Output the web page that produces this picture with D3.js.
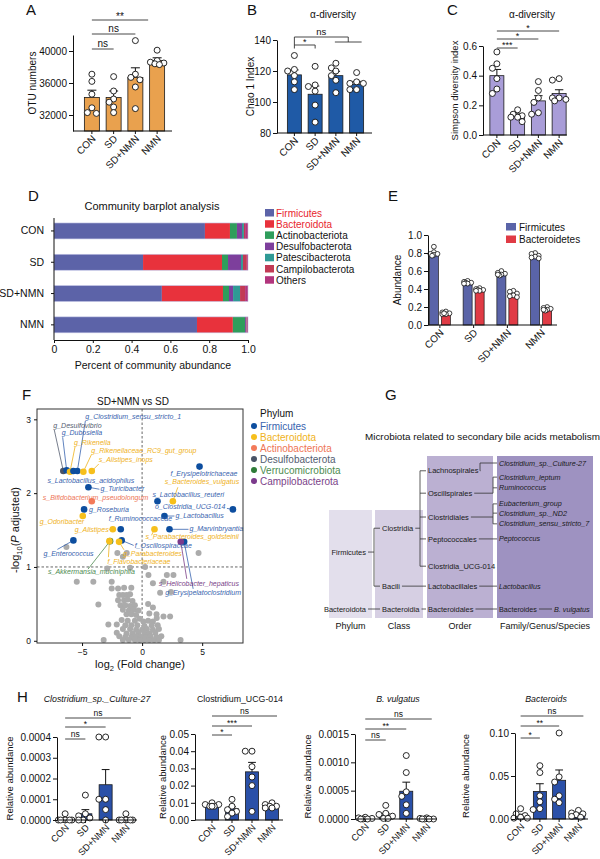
<!DOCTYPE html>
<html>
<head>
<meta charset="utf-8">
<script src="https://cdn.jsdelivr.net/npm/d3@7"></script>
<style>
  body { margin: 0; background: #fff; }
  svg { display: block; }
</style>
</head>
<body>
<div id="fig"></div>
<script>
const groups = ["CON", "SD", "SD+NMN", "NMN"];

// A: OTU numbers
const otuMean = [34200, 34200, 36700, 38800];
const otuSem = [900, 800, 1200, 350];
const otuPts = [
  [37100, 36200, 34600, 32900, 32200, 32300],
  [36800, 35000, 34000, 33600, 33000, 32300],
  [41300, 37100, 36700, 36400, 35500, 32800],
  [40100, 38800, 38600, 38500, 38400, 38300]
];

// B: Chao 1
const chaoMean = [117.5, 105, 117, 111.5];
const chaoSem = [3.2, 5.3, 2.8, 1.8];
const chaoPts = [
  [130, 121, 120, 117, 113, 108],
  [123, 111, 110, 107, 98, 87],
  [125, 122, 120, 117, 114, 106],
  [119, 113, 112, 112, 108, 108]
];

// C: Simpson
const simpMean = [0.40, 0.13, 0.23, 0.28];
const simpSem = [0.042, 0.012, 0.035, 0.025];
const simpPts = [
  [0.56, 0.48, 0.45, 0.38, 0.31, 0.28],
  [0.17, 0.14, 0.13, 0.12, 0.12, 0.09],
  [0.36, 0.30, 0.25, 0.22, 0.15, 0.14],
  [0.38, 0.37, 0.25, 0.25, 0.24, 0.23]
];

// D: community barplot
const phyla = ["Firmicutes", "Bacteroidota", "Actinobacteriota", "Desulfobacterota",
               "Patescibacterota", "Campilobacterota", "Others"];
const communityShare = [
  [0.778, 0.129, 0.036, 0.026, 0.010, 0.006, 0.015],
  [0.459, 0.407, 0.031, 0.067, 0.010, 0.020, 0.006],
  [0.556, 0.315, 0.031, 0.021, 0.036, 0.026, 0.015],
  [0.737, 0.185, 0.063, 0.005, 0.002, 0.003, 0.005]
];
const dTicks = [0, 0.2, 0.4, 0.6, 0.8, 1.0];

// E: Firmicutes / Bacteroidetes abundance
const firmMean = [0.79, 0.47, 0.565, 0.755];
const firmSem = [0.014, 0.005, 0.008, 0.01];
const firmPts = [
  [0.87, 0.81, 0.79, 0.78, 0.77, 0.79],
  [0.49, 0.48, 0.47, 0.47, 0.46, 0.46],
  [0.60, 0.58, 0.57, 0.56, 0.55, 0.56],
  [0.80, 0.79, 0.77, 0.76, 0.74, 0.75]
];
const bactMean = [0.125, 0.385, 0.335, 0.175];
const bactSem = [0.006, 0.005, 0.012, 0.007];
const bactPts = [
  [0.15, 0.14, 0.13, 0.12, 0.12, 0.13],
  [0.41, 0.40, 0.39, 0.39, 0.38, 0.38],
  [0.38, 0.37, 0.35, 0.33, 0.32, 0.31],
  [0.20, 0.19, 0.18, 0.17, 0.16, 0.17]
];

// F: volcano
const volcPhyla = ["Firmicutes", "Bacteroidota", "Actinobacteriota", "Desulfobacterota",
                   "Verrucomicrobiota", "Campilobacterota"];
const volcLabels = ["g_Desulfovibrio", "g_Dubosiella", "g_Rikenella", "s_Lactobacillus_acidophilus",
  "g_Clostridium_sensu_stricto_1", "g_Rikenellaceae_RC9_gut_group", "s_Alistipes_inops", "g_Turicibacter",
  "s_Bifidobacterium_pseudolongum", "g_Roseburia", "g_Odoribacter", "f_Ruminococcaceae", "g_Alistipes",
  "g_Enterococcus", "s_Akkermansia_muciniphila", "f_Flavobacteriaceae", "f_Oscillospiraceae",
  "g_Parabacteroides", "f_Erysipelotrichaceae", "s_Bacteroides_vulgatus", "s_Lactobacillus_reuteri",
  "o_Clostridia_UCG-014", "g_Lactobacillus", "g_Marvinbryantia", "s_Parabacteroides_goldsteinii",
  "g_Erysipelatoclostridium", "s_Helicobacter_hepaticus"];
const volcFC = [-6.56, -6.28, -6.00, -5.72, -5.39, -4.89, -4.19, -4.47, -4.19, -4.83, -4.94, -1.78, -2.44,
  -5.72, -2.67, -2.72, -1.70, -1.92, 4.78, 2.56, 1.28, 7.56, 1.86, 2.28, 1.03, 3.50, 3.22];
const volcP = [2.30, 2.31, 2.29, 2.30, 2.30, 2.29, 2.30, 2.08, 1.89, 1.78, 1.69, 1.51, 1.51,
  1.36, 1.35, 1.35, 1.36, 1.34, 2.36, 1.89, 1.89, 1.78, 1.69, 1.51, 1.51, 1.34, 1.34];
const volcPhy = [3, 0, 1, 0, 0, 1, 1, 0, 2, 0, 1, 0, 1, 0, 4, 1, 0, 1, 0, 1, 0, 0, 0, 0, 1, 0, 5];
const grayFC = [-6.3, 4.7, -2.06, -1.28, -1.6, -2.9, -1.0, 0.25, -5.44, -4.06, -2.53, 0.53, 2.06, 2.61, 1.78, 0.9,
  -2.53, -2.0, -1.5, -0.9, 1.5, 2.4, -3.64, -1.9, -1.6, -1.3, -1.0, -2.0, -1.5, -1.2, -0.8,
  -1.8, -1.4, -1.0, -0.6, 0.5, -1.6, -1.1, -0.7, -0.3, 0.9, -1.3, -0.9, -0.5, 0.6, 1.2,
  1.22, 1.78, 2.33, -0.2, -1.7, -1.2, -0.6, 0.1, 0.5, 0.9,
  -2.81, -2.11, -1.4, -0.9, -0.4, 0.2, 0.8, 1.3, -1.6, -1.0, -0.5, 0.0, 0.4, 0.9, 1.4,
  -2.11, -1.3, -0.8, -0.3, 0.2, 0.6, 1.1, -1.9, -1.4, -0.9, -0.5, -0.1, 0.3, 0.7, 1.2, 1.6,
  -3.2, -1.6, -1.1, -0.6, -0.2, 0.2, 0.6, 1.0, 1.4, 3.2];
const grayP = [1.27, 1.19, 1.19, 1.19, 1.14, 0.98, 0.99, 1.0, 0.80, 0.80, 0.80, 0.89, 0.89, 0.89, 0.80, 0.78,
  0.71, 0.71, 0.72, 0.72, 0.65, 0.66, 0.49, 0.62, 0.62, 0.62, 0.63, 0.55, 0.55, 0.56, 0.54,
  0.48, 0.48, 0.47, 0.48, 0.50, 0.42, 0.41, 0.42, 0.41, 0.45, 0.36, 0.36, 0.35, 0.37, 0.36,
  0.31, 0.33, 0.33, 0.30, 0.28, 0.27, 0.27, 0.26, 0.27, 0.26,
  0.22, 0.22, 0.21, 0.21, 0.21, 0.20, 0.21, 0.21, 0.16, 0.16, 0.15, 0.15, 0.16, 0.15, 0.16,
  0.11, 0.10, 0.10, 0.11, 0.10, 0.10, 0.11, 0.06, 0.05, 0.05, 0.06, 0.05, 0.05, 0.06, 0.05, 0.06,
  0.01, 0.01, 0.01, 0.01, 0.01, 0.01, 0.01, 0.01, 0.01, 0.01];

// G: taxonomy tree
const treeNames = ["Firmicutes", "Bacteroidota", "Clostridia", "Bacili", "Bacteroidia",
  "Lachnospirales", "Oscillspirales", "Clostridiales", "Peptococcales", "Clostridia_UCG-014",
  "Lactobacillales", "Bacteroidales", "Clostridium_sp._Culture-27", "Clostridium_leptum", "Ruminococcus",
  "Eubacterium_group", "Clostridium_sp._ND2", "Clostridium_sensu_stricto_7", "Peptococcus",
  "Lactobacillus", "Bacteroides", "B. vulgatus"];
const treeLevel = [0, 0, 1, 1, 1, 2, 2, 2, 2, 2, 2, 2, 3, 3, 3, 3, 3, 3, 3, 3, 3, 4];
const treeRow = [18.3, 30, 13.4, 25.3, 30, 1.6, 6.2, 11.1, 15.6, 21.2, 25.3, 30,
  0, 2.9, 5.1, 8.4, 10.3, 12.5, 15.6, 25.3, 30, 30];
const treeEdges = [["Firmicutes", "Clostridia"], ["Firmicutes", "Bacili"], ["Bacteroidota", "Bacteroidia"],
  ["Clostridia", "Lachnospirales"], ["Clostridia", "Oscillspirales"], ["Clostridia", "Clostridiales"],
  ["Clostridia", "Peptococcales"], ["Clostridia", "Clostridia_UCG-014"], ["Bacili", "Lactobacillales"],
  ["Bacteroidia", "Bacteroidales"], ["Lachnospirales", "Clostridium_sp._Culture-27"],
  ["Oscillspirales", "Clostridium_leptum"], ["Oscillspirales", "Ruminococcus"],
  ["Clostridiales", "Eubacterium_group"], ["Clostridiales", "Clostridium_sp._ND2"],
  ["Clostridiales", "Clostridium_sensu_stricto_7"], ["Peptococcales", "Peptococcus"],
  ["Lactobacillales", "Lactobacillus"], ["Bacteroidales", "Bacteroides"], ["Bacteroides", "B. vulgatus"]];
const treeColumns = ["Phylum", "Class", "Order", "Family/Genus/Species"];

// H: relative abundance of selected taxa
const hTitles = ["Clostridium_sp._Culture-27", "Clostridium_UCG-014", "B. vulgatus", "Bacteroids"];
const hDomains = [[0, 0.0004], [0, 0.05], [0, 0.0015], [0, 0.1]];
const hTicks = [[0, 0.0001, 0.0002, 0.0003, 0.0004], [0, 0.01, 0.02, 0.03, 0.04, 0.05],
                [0, 0.0005, 0.001, 0.0015], [0, 0.05, 0.1]];
const hMean = [[0.000002, 0.00003, 0.00017, 0.000003], [0.0085, 0.0065, 0.028, 0.0078],
               [0.00001, 0.00007, 0.00049, 0.00001], [0.004, 0.032, 0.045, 0.005]];
const hSem = [[0.000005, 0.00002, 0.000073, 0.000005], [0.0005, 0.0012, 0.0055, 0.0005],
              [0.000006, 0.00003, 0.00016, 0.000004], [0.0015, 0.009, 0.012, 0.0014]];
const hPts = [
  [[0.00003, 0, 0, 0, 0, 0], [0.00012, 0.00003, 0.00002, 0.00001, 0, 0],
   [0.0004, 0.0004, 0.0001, 0.0001, 0.00005, 0], [0.00003, 0, 0, 0, 0, 0]],
  [[0.010, 0.009, 0.009, 0.008, 0.008, 0.008], [0.012, 0.008, 0.006, 0.005, 0.004, 0.002],
   [0.040, 0.040, 0.031, 0.025, 0.020, 0.005], [0.010, 0.009, 0.008, 0.008, 0.007, 0.007]],
  [[0.00003, 0.00002, 0.00001, 0, 0, 0], [0.00024, 0.0001, 0.00008, 0.00005, 0.00001, 0.00001],
   [0.00112, 0.00082, 0.00048, 0.0004, 0.00025, 0.0001], [0.00002, 0.00001, 0, 0, 0, 0]],
  [[0.012, 0.006, 0.004, 0.002, 0.001, 0.001], [0.062, 0.054, 0.027, 0.020, 0.012, 0.011],
   [0.100, 0.049, 0.043, 0.027, 0.023, 0.019], [0.010, 0.007, 0.006, 0.005, 0.003, 0.002]]
];
const hSig = [["ns", "*", "ns"], ["*", "***", "ns"], ["ns", "**", "ns"], ["*", "**", "ns"]];

// ---------------------------------------------------------------------------
const FONT = '"Liberation Sans", Arial, Helvetica, sans-serif';
const INK = "#111";
const svg = d3.select("#fig").append("svg")
  .attr("width", 600).attr("height", 859)
  .style("font-family", FONT);

function styleAxis(sel, fs) {
  sel.attr("font-family", FONT).attr("font-size", fs);
  sel.selectAll("path, line").attr("stroke", INK).attr("stroke-width", 1);
  sel.selectAll("text").attr("fill", INK);
}

function line(g, x1, y1, x2, y2, color, w) {
  return g.append("line").attr("x1", x1).attr("y1", y1).attr("x2", x2).attr("y2", y2)
    .attr("stroke", color || INK).attr("stroke-width", w || 0.9);
}

// simple deterministic swarm so that points with close values sit side by side
function swarm(vals, y, r, maxOff) {
  const order = d3.range(vals.length).sort((a, b) => d3.descending(vals[a], vals[b]));
  const steps = [0, -1, 1, -0.5, 0.5, -1.5, 1.5];
  const placed = [], off = [];
  order.forEach(i => {
    const py = y(vals[i]);
    let best = 0, bestD = -1;
    for (const s of steps) {
      const px = s * r * 1.5;
      if (Math.abs(px) > maxOff) continue;
      const dmin = placed.length ? d3.min(placed, p => Math.hypot(p[0] - px, p[1] - py)) : Infinity;
      if (dmin >= r * 1.8) { best = px; bestD = dmin; break; }
      if (dmin > bestD) { bestD = dmin; best = px; }
    }
    off[i] = best;
    placed.push([best, py]);
  });
  return off;
}

function barPanel(o) {
  const g = svg.append("g");
  const x = d3.scaleBand().domain(groups).range(o.band);
  const cx = d => x(d) + x.bandwidth() / 2;
  const y = d3.scaleLinear().domain(o.domain).range([o.yBot, o.yTop]);
  const r = o.r || 3;

  g.selectAll("rect").data(groups).join("rect")
    .attr("x", d => cx(d) - o.barW / 2)
    .attr("y", (d, i) => y(o.mean[i]))
    .attr("width", o.barW)
    .attr("height", (d, i) => o.yBot - y(o.mean[i]))
    .attr("fill", o.fill).attr("stroke", "#1a1a1a").attr("stroke-width", 0.8);

  // mean + SEM
  groups.forEach((d, i) => {
    const top = y(o.mean[i] + o.sem[i]);
    line(g, cx(d), y(o.mean[i]), cx(d), top, INK, 1);
    line(g, cx(d) - o.barW * 0.3, top, cx(d) + o.barW * 0.3, top, INK, 1);
  });

  groups.forEach((d, i) => {
    const offs = swarm(o.pts[i], y, r, o.barW / 2 + 1);
    g.selectAll(null).data(o.pts[i]).join("circle")
      .attr("cx", (v, j) => cx(d) + offs[j])
      .attr("cy", v => y(v))
      .attr("r", r)
      .attr("fill", "#fff").attr("stroke", INK).attr("stroke-width", 0.9);
  });

  const ya = g.append("g").attr("transform", `translate(${o.axisX},0)`)
    .call(d3.axisLeft(y).tickValues(o.ticks).tickFormat(d3.format(o.fmt))
      .tickSize(4).tickSizeOuter(0).tickPadding(2));
  styleAxis(ya, o.tickFs || 10);

  const xa = g.append("g").attr("transform", `translate(0,${o.yBot})`)
    .call(d3.axisBottom(x).tickSize(3).tickSizeOuter(0));
  xa.select(".domain").remove();
  styleAxis(xa, o.xTickFs || o.tickFs || 10);
  xa.selectAll("text")
    .attr("x", 0).attr("y", 0).attr("dy", "0.35em")
    .attr("transform", "translate(2,6) rotate(-45)")
    .attr("text-anchor", "end");
  line(g, o.axisX, o.yBot, o.axisEnd, o.yBot, INK, 1);

  g.append("text")
    .attr("transform", `translate(${o.ylabelX},${(o.yTop + o.yBot) / 2}) rotate(-90)`)
    .attr("text-anchor", "middle").attr("dy", "0.35em")
    .style("font-size", (o.ylabelFs || 10) + "px").attr("fill", INK)
    .text(o.ylabel);

  if (o.title) {
    g.append("text").attr("x", o.titleX).attr("y", o.titleY)
      .attr("text-anchor", "middle")
      .style("font-size", (o.titleFs || 10) + "px")
      .style("font-style", o.italic ? "italic" : "normal")
      .attr("fill", INK).text(o.title);
  }

  (o.brackets || []).forEach(b => {
    const x1 = cx("CON"), x2 = cx(b.to) + (b.end || 0);
    line(g, x1, b.y, x2, b.y, "#333", 0.9);
    if (b.ticks) {
      line(g, x1, b.y, x1, b.y + 3.5, "#333", 0.9);
      line(g, x2, b.y, x2, b.y + 3.5, "#333", 0.9);
    }
    g.append("text").attr("x", (x1 + x2) / 2).attr("y", b.y - (b.t === "ns" ? 2.5 : 0.5))
      .attr("text-anchor", "middle").style("font-size", (o.sigFs || 9) + "px")
      .attr("fill", INK).text(b.t);
  });
  return { g, x, y, cx };
}

// ---------------------------------------------------------------------------
// Panel A
barPanel({
  axisX: 73, axisEnd: 172, band: [81, 168], yTop: 35, yBot: 131,
  domain: [30000, 42000], ticks: [32000, 36000, 40000], fmt: "d",
  mean: otuMean, sem: otuSem, pts: otuPts, fill: "#E9A14E", barW: 15,
  ylabel: "OTU numbers", ylabelX: 32, sigFs: 10,
  brackets: [{ to: "SD", y: 49, t: "ns" }, { to: "SD+NMN", y: 34, t: "ns" }, { to: "NMN", y: 20, t: "**", end: -9 }]
});

// Panel B
const pB = barPanel({
  axisX: 277, axisEnd: 372, band: [284, 367], yTop: 40, yBot: 133,
  domain: [80, 140], ticks: [80, 100, 120, 140], fmt: "d",
  mean: chaoMean, sem: chaoSem, pts: chaoPts, fill: "#1F5AA6", barW: 14,
  ylabel: "Chao 1 Index", ylabelX: 250, title: "α-diversity", titleX: 333, titleY: 18,
  brackets: [{ to: "SD", y: 45, t: "*", ticks: true }]
});
{
  const xa = pB.cx("CON"), xr1 = pB.cx("SD+NMN") - 1, xr2 = pB.cx("NMN") + 5, xm = (xr1 + xr2) / 2;
  line(pB.g, xa, 37, xm, 37, "#333");
  line(pB.g, xa, 37, xa, 45, "#333");
  line(pB.g, xm, 37, xm, 42, "#333");
  line(pB.g, xr1, 42, xr2, 42, "#333");
  pB.g.append("text").attr("x", (xa + xm) / 2).attr("y", 34.5).attr("text-anchor", "middle")
    .style("font-size", "9.5px").attr("fill", INK).text("ns");
}

// Panel C
barPanel({
  axisX: 483, axisEnd: 567, band: [486.5, 569.5], yTop: 46, yBot: 135,
  domain: [0, 0.6], ticks: [0, 0.2, 0.4, 0.6], fmt: ".1f",
  mean: simpMean, sem: simpSem, pts: simpPts, fill: "#A99DD8", barW: 14,
  ylabel: "Simpson diversity index", ylabelX: 455, ylabelFs: 9.5,
  title: "α-diversity", titleX: 532, titleY: 18,
  brackets: [{ to: "SD", y: 48, t: "***" }, { to: "SD+NMN", y: 39, t: "*" }, { to: "NMN", y: 31, t: "*" }]
});

// ---------------------------------------------------------------------------
// Panel D
{
  const colors = ["#5C63A8", "#E8323C", "#2F9D5B", "#7D3F9C", "#2F9A95", "#C23A55", "#B2357D"];
  const g = svg.append("g");
  const x = d3.scaleLinear().domain([0, 1]).range([54, 248]);
  const y = d3.scaleBand().domain(groups).range([215.3, 340.5]).paddingInner(0.49).paddingOuter(0.245);
  groups.forEach((grp, i) => {
    const stack = d3.cumsum(communityShare[i]);
    g.selectAll(null).data(communityShare[i]).join("rect")
      .attr("x", (d, k) => x(stack[k] - d))
      .attr("width", d => x(d) - x(0))
      .attr("y", y(grp)).attr("height", y.bandwidth())
      .attr("fill", (d, k) => colors[k]);
    g.append("rect").attr("x", x(0)).attr("y", y(grp)).attr("width", x(d3.sum(communityShare[i])) - x(0))
      .attr("height", y.bandwidth()).attr("fill", "none").attr("stroke", "#c4c6e6").attr("stroke-width", 0.6);
  });
  const xa = g.append("g").attr("transform", "translate(0,340)")
    .call(d3.axisBottom(x).tickValues(dTicks).tickFormat(d => d === 0 ? "0" : d3.format(".1f")(d))
      .tickSize(3).tickSizeOuter(0));
  styleAxis(xa, 10.5);
  const ya = g.append("g").attr("transform", "translate(54,0)")
    .call(d3.axisLeft(y).tickSize(3).tickPadding(7));
  ya.select(".domain").remove();
  styleAxis(ya, 10.5);
  line(g, 54, 218, 54, 340, INK, 1);
  g.append("text").attr("x", 152).attr("y", 210).attr("text-anchor", "middle")
    .style("font-size", "11px").attr("fill", INK).text("Community barplot analysis");
  g.append("text").attr("x", 153).attr("y", 369).attr("text-anchor", "middle")
    .style("font-size", "10.5px").attr("fill", INK).text("Percent of community abundance");
  const leg = g.selectAll(".legD").data(phyla).join("g")
    .attr("transform", (d, i) => `translate(265,${209 + i * 11.2})`);
  leg.append("rect").attr("width", 9).attr("height", 7.5).attr("fill", (d, i) => colors[i]);
  leg.append("text").attr("x", 11).attr("y", 7.5).style("font-size", "10px")
    .attr("fill", (d, i) => i < 2 ? "#E8262E" : INK).text(d => d);
}

// ---------------------------------------------------------------------------
// Panel E
{
  const g = svg.append("g");
  const x = d3.scaleBand().domain(groups).range([423, 558]);
  const cx = d => x(d) + x.bandwidth() / 2;
  const y = d3.scaleLinear().domain([0, 1]).range([325, 235]);
  const series = [
    { name: "Firmicutes", mean: firmMean, sem: firmSem, pts: firmPts, color: "#5A64A8", off: -6 },
    { name: "Bacteroidetes", mean: bactMean, sem: bactSem, pts: bactPts, color: "#E03B45", off: 6 }
  ];
  series.forEach(s => {
    g.selectAll(null).data(groups).join("rect")
      .attr("x", d => cx(d) + s.off - 4.5).attr("width", 9)
      .attr("y", (d, i) => y(s.mean[i])).attr("height", (d, i) => 325 - y(s.mean[i]))
      .attr("fill", s.color).attr("stroke", "#1a1a1a").attr("stroke-width", 0.7);
    groups.forEach((d, i) => {
      const top = y(s.mean[i] + s.sem[i]);
      line(g, cx(d) + s.off, y(s.mean[i]), cx(d) + s.off, top, INK, 0.9);
      line(g, cx(d) + s.off - 2.5, top, cx(d) + s.off + 2.5, top, INK, 0.9);
      const offs = swarm(s.pts[i], y, 2.4, 5);
      g.selectAll(null).data(s.pts[i]).join("circle")
        .attr("cx", (v, j) => cx(d) + s.off + offs[j]).attr("cy", v => y(v)).attr("r", 2.4)
        .attr("fill", "#fff").attr("stroke", INK).attr("stroke-width", 0.8);
    });
  });
  const ya = g.append("g").attr("transform", "translate(428,0)")
    .call(d3.axisLeft(y).tickValues([0, 0.2, 0.4, 0.6, 0.8, 1.0]).tickFormat(d3.format(".1f"))
      .tickSize(4).tickSizeOuter(0).tickPadding(2));
  styleAxis(ya, 10);
  const xa = g.append("g").attr("transform", "translate(0,325)")
    .call(d3.axisBottom(x).tickSize(3).tickSizeOuter(0));
  xa.select(".domain").remove();
  styleAxis(xa, 10);
  xa.selectAll("text").attr("x", 0).attr("y", 0).attr("dy", "0.35em")
    .attr("transform", "translate(2,6) rotate(-45)").attr("text-anchor", "end");
  line(g, 428, 325, 557, 325, INK, 1);
  g.append("text").attr("transform", "translate(397,280) rotate(-90)").attr("text-anchor", "middle")
    .attr("dy", "0.35em").style("font-size", "10px").attr("fill", INK).text("Abundance");
  const leg = g.selectAll(".legE").data(series).join("g")
    .attr("transform", (d, i) => `translate(506,${223 + i * 12.5})`);
  leg.append("rect").attr("width", 10).attr("height", 7.5).attr("fill", d => d.color);
  leg.append("text").attr("x", 13).attr("y", 7.5).style("font-size", "10px").attr("fill", INK).text(d => d.name);
}

// ---------------------------------------------------------------------------
// Panel F
{
  const ptColor = ["#0D4E9F", "#F6BF1C", "#F37A5A", "#495366", "#2E7B38", "#7B3A8C"];
  const txtColor = ["#3763AE", "#EFB21C", "#EE7556", "#545D70", "#4E8C50", "#7B3F88"];
  // label offsets in px from each point: [dx, dy, leaderDx, leaderDy]
  const labelOff = [[-10, -43, -9, -41], [-5, -35, -4, -33], [4, -27, 5, -25], [-26, 12],
    [8, -52, 8, -50], [8, -19, 8, -17], [7, -9, 7, -7], [12, 4, 11, 2], [-49, -1], [5, 3], [-43, 8],
    [-12, -8], [-38, 3, -4, 0], [-30, 16, -16, 9], [-62, 33, -22, 28], [-2, 23, -1, 16], [13, 8, 12, 5],
    [4, 14, 5, 8], [-29, 9], [-8, -17, 5, -14], [-5, -4], [-78, 0, -6, -1], [11, 2, 10, 0],
    [20, 2, 19, 0], [-9, 10, -3, 6], [-19, 53, 9, 47], [-22, 44, 6, 37]];
  const g = svg.append("g");
  const x = d3.scaleLinear().domain([-8.75, 8.4]).range([37, 243]);
  const y = d3.scaleLinear().domain([-0.03, 3.14]).range([643, 409]);

  g.append("line").attr("x1", x(0)).attr("x2", x(0)).attr("y1", 409).attr("y2", 643)
    .attr("stroke", "#555").attr("stroke-width", 0.9).attr("stroke-dasharray", "2.5,2");
  g.append("line").attr("x1", 37).attr("x2", 243).attr("y1", y(1)).attr("y2", y(1))
    .attr("stroke", "#555").attr("stroke-width", 0.9).attr("stroke-dasharray", "2.5,2");

  g.selectAll(null).data(grayFC).join("circle")
    .attr("cx", d => x(d)).attr("cy", (d, i) => y(grayP[i])).attr("r", 3)
    .attr("fill", "#ABABAB");

  volcFC.forEach((fc, i) => {
    const o = labelOff[i];
    if (o.length > 2) {
      line(g, x(fc), y(volcP[i]), x(fc) + o[2], y(volcP[i]) + o[3], txtColor[volcPhy[i]], 0.8);
    }
  });
  g.selectAll(null).data(volcFC).join("circle")
    .attr("cx", d => x(d)).attr("cy", (d, i) => y(volcP[i])).attr("r", 3.3)
    .attr("fill", (d, i) => ptColor[volcPhy[i]]);
  g.selectAll(null).data(volcLabels).join("text")
    .attr("x", (d, i) => x(volcFC[i]) + labelOff[i][0])
    .attr("y", (d, i) => y(volcP[i]) + labelOff[i][1])
    .style("font-size", "7px").style("font-style", "italic")
    .attr("fill", (d, i) => txtColor[volcPhy[i]]).text(d => d);

  g.append("rect").attr("x", 37).attr("y", 409).attr("width", 206).attr("height", 234)
    .attr("fill", "none").attr("stroke", "#333").attr("stroke-width", 1);
  const ya = g.append("g").attr("transform", "translate(37,0)")
    .call(d3.axisLeft(y).tickValues([0, 1, 2, 3]).tickFormat(d3.format("d")).tickSize(3).tickSizeOuter(0));
  ya.select(".domain").remove();
  styleAxis(ya, 8.5);
  const xa = g.append("g").attr("transform", "translate(0,643)")
    .call(d3.axisBottom(x).tickValues([-5, 0, 5]).tickFormat(d3.format("d")).tickSize(3).tickSizeOuter(0));
  xa.select(".domain").remove();
  styleAxis(xa, 8.5);

  g.append("text").attr("x", 133).attr("y", 405).attr("text-anchor", "middle")
    .style("font-size", "10px").attr("fill", INK).text("SD+NMN vs SD");
  const yl = g.append("text").attr("transform", "translate(19,530) rotate(-90)")
    .attr("text-anchor", "middle").style("font-size", "11px").attr("fill", INK);
  yl.append("tspan").text("-log");
  yl.append("tspan").attr("dy", 2.5).style("font-size", "7.5px").text("10");
  yl.append("tspan").attr("dy", -2.5).text("(");
  yl.append("tspan").style("font-style", "italic").text("P");
  yl.append("tspan").text(" adjusted)");
  const xl = g.append("text").attr("x", 140).attr("y", 668).attr("text-anchor", "middle")
    .style("font-size", "11px").attr("fill", INK);
  xl.append("tspan").text("log");
  xl.append("tspan").attr("dy", 2.5).style("font-size", "7.5px").text("2");
  xl.append("tspan").attr("dy", -2.5).text(" (Fold change)");

  g.append("text").attr("x", 260).attr("y", 417).style("font-size", "10px").attr("fill", INK).text("Phylum");
  const leg = g.selectAll(".legF").data(volcPhyla).join("g")
    .attr("transform", (d, i) => `translate(254,${426 + i * 11})`);
  leg.append("circle").attr("r", 3).attr("fill", (d, i) => ptColor[i]);
  leg.append("text").attr("x", 6).attr("dy", "0.35em").style("font-size", "10px")
    .attr("fill", (d, i) => txtColor[i]).text(d => d);
}

// ---------------------------------------------------------------------------
// Panel G
{
  const g = svg.append("g");
  const colRects = [[329, 372, 510, "#E3DFEC"], [375, 423, 510, "#D6CFE3"],
                    [427, 493, 456, "#BBB0D2"], [497, 593, 456, "#9E92C1"]];
  colRects.forEach(c => {
    g.append("rect").attr("x", c[0]).attr("y", c[2]).attr("width", c[1] - c[0])
      .attr("height", 618 - c[2]).attr("fill", c[3]);
  });
  g.selectAll(null).data(treeColumns).join("text")
    .attr("x", (d, i) => (colRects[i][0] + colRects[i][1]) / 2).attr("y", 629)
    .attr("text-anchor", "middle").style("font-size", "9px").attr("fill", INK).text(d => d);
  g.append("text").attr("x", 365).attr("y", 440).style("font-size", "9.9px").attr("fill", INK)
    .text("Microbiota related to secondary  bile acids metabolism");

  const row = d3.scaleLinear().domain([0, 30]).range([463, 609]);
  const colX = [366, 382, 428, 499, 554];
  const bracketX = { Firmicutes: 374, Clostridia: 420, Lachnospirales: 480, Oscillspirales: 493, Clostridiales: 493 };
  const pos = {};
  treeNames.forEach((name, i) => {
    const lvl = treeLevel[i];
    const t = g.append("text").attr("x", colX[lvl]).attr("y", row(treeRow[i])).attr("dy", "0.35em")
      .attr("text-anchor", lvl === 0 ? "end" : "start")
      .style("font-size", lvl >= 3 ? "7.2px" : "7.5px")
      .style("font-style", lvl >= 3 && name !== "Bacteroides" ? "italic" : "normal")
      .attr("fill", "#1a1a1a").text(name);
    const w = t.node().getComputedTextLength();
    pos[name] = lvl === 0
      ? { x0: colX[0] - w, x1: colX[0], y: row(treeRow[i]) }
      : { x0: colX[lvl], x1: colX[lvl] + w, y: row(treeRow[i]) };
  });
  d3.groups(treeEdges, e => e[0]).forEach(([parent, list]) => {
    const p = pos[parent];
    const kids = list.map(e => pos[e[1]]);
    const bx = bracketX[parent];
    if (bx === undefined) {
      kids.forEach(k => line(g, p.x1 + 2, p.y, k.x0 - 2, k.y, "#333", 0.8));
    } else {
      line(g, p.x1 + 2, p.y, bx, p.y, "#333", 0.8);
      const ys = kids.map(k => k.y).concat([p.y]);
      line(g, bx, d3.min(ys), bx, d3.max(ys), "#333", 0.8);
      kids.forEach(k => line(g, bx, k.y, k.x0 - 2, k.y, "#333", 0.8));
    }
  });
}

// ---------------------------------------------------------------------------
// Panel H
{
  const hLayout = [
    { axisX: 57, axisEnd: 137, band: [55, 136], yTop: 737, yBot: 820, fmt: ".4f", ylabelX: 10, titleX: 97, italic: true, sigY: [739, 727, 718] },
    { axisX: 195, axisEnd: 283, band: [202, 282], yTop: 734, yBot: 820, fmt: ".2f", ylabelX: 163, titleX: 240, italic: false, sigY: [735, 726, 716] },
    { axisX: 355, axisEnd: 437, band: [355, 437], yTop: 734, yBot: 819, fmt: ".4f", ylabelX: 308, titleX: 398, italic: true, sigY: [740, 729, 719] },
    { axisX: 515, axisEnd: 588, band: [511, 588], yTop: 733, yBot: 819, fmt: ".2f", ylabelX: 466, titleX: 546, italic: true, sigY: [738, 726, 716] }
  ];
  hLayout.forEach((L, k) => {
    barPanel(Object.assign({}, L, {
      domain: hDomains[k], ticks: hTicks[k],
      mean: hMean[k], sem: hSem[k], pts: hPts[k], fill: "#2A50A8", barW: 13,
      ylabel: "Relative abundance", ylabelFs: 9.5, tickFs: 10, xTickFs: 9.3,
      title: hTitles[k], titleY: 702, titleFs: 8.8, sigFs: 8.5,
      brackets: [{ to: "SD", y: L.sigY[0], t: hSig[k][0] },
                 { to: "SD+NMN", y: L.sigY[1], t: hSig[k][1] },
                 { to: "NMN", y: L.sigY[2], t: hSig[k][2], end: 5 }]
    }));
  });
}

// ---------------------------------------------------------------------------
// Panel letters
const letters = ["A", "B", "C", "D", "E", "F", "G", "H"];
const letterX = [26, 247, 447, 28, 388, 22, 385, 17];
const letterY = [15, 15, 15, 201, 201, 400, 400, 702];
svg.selectAll(".letter").data(letters).join("text")
  .attr("class", "letter")
  .attr("x", (d, i) => letterX[i]).attr("y", (d, i) => letterY[i])
  .style("font-size", "15px").attr("fill", INK).text(d => d);
</script>
</body>
</html>
